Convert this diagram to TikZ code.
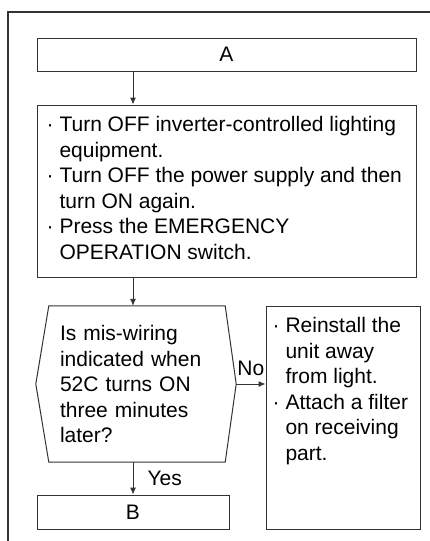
\documentclass[tikz,border=0pt]{standalone}
\usepackage{fontspec}
\setmainfont{Liberation Sans}
\usetikzlibrary{arrows.meta, positioning}
\definecolor{linegray}{HTML}{333333}
\newcommand{\bulind}{\hphantom{·\ }}
\tikzset{
  >={Latex[length=7,width=6]},
  % boxes and text
  box/.style={rectangle,draw=linegray,line width=1,inner sep=0},
  txt/.style={font=\fontsize{21}{25.5}\selectfont,align=left,inner sep=0},
  % connectors
  flow/.style={->,draw=linegray,line width=1}
}
\begin{document}
\begin{tikzpicture}[x=1pt,y=-1pt]
  \useasboundingbox (0,0) rectangle (430,541);
  % frame
  \draw[linegray,line width=1.3] (430,12) -- (8,12) -- (8,541);
  % start
  \node[box,txt,minimum width=379,minimum height=33] (a) at (226.5,54.5) {A};
  % actions
  \node[box,minimum width=379,minimum height=172] (steps) at (226.5,191) {};
  \node[txt,anchor=north west] (stepstxt) at ([xshift=10,yshift=-12]steps.north west)
    {· Turn OFF inverter-controlled lighting\\
     \bulind equipment.\\
     · Turn OFF the power supply and then\\
     \bulind turn ON again.\\
     · Press the EMERGENCY\\
     \bulind OPERATION switch.};
  % decision
  \node[txt,minimum width=200,minimum height=156,inner xsep=24,text width=152] (dec) at (136,384)
    {Is mis-wiring\\indicated when\\52C turns ON\\three minutes\\later?};
  \draw[linegray,line width=1] ([xshift=13]dec.north west) -- ([xshift=-11]dec.north east)
    -- (dec.east) -- ([xshift=-11]dec.south east) -- ([xshift=13]dec.south west)
    -- (dec.west) -- cycle;
  % remedy
  \node[box,minimum width=154,minimum height=223] (rem) at (343,417.5) {};
  \node[txt,anchor=north west] (remtxt) at ([xshift=7,yshift=-12]rem.north west)
    {· Reinstall the\\
     \bulind unit away\\
     \bulind from light.\\
     · Attach a filter\\
     \bulind on receiving\\
     \bulind part.};
  % end
  \node[box,txt,minimum width=192,minimum height=34] (b) at (133,512) {B};
  % connectors
  \draw[flow] (a.south -| b) -- (steps.north -| b);
  \draw[flow] (steps.south -| b) -- (dec.north -| b);
  \draw[flow] (dec.south -| b) -- node[txt,right=14pt] {Yes} (b.north);
  \draw[flow] (dec.east) -- node[txt,above=8pt] {No} (dec.east -| rem.west);
\end{tikzpicture}
\end{document}
